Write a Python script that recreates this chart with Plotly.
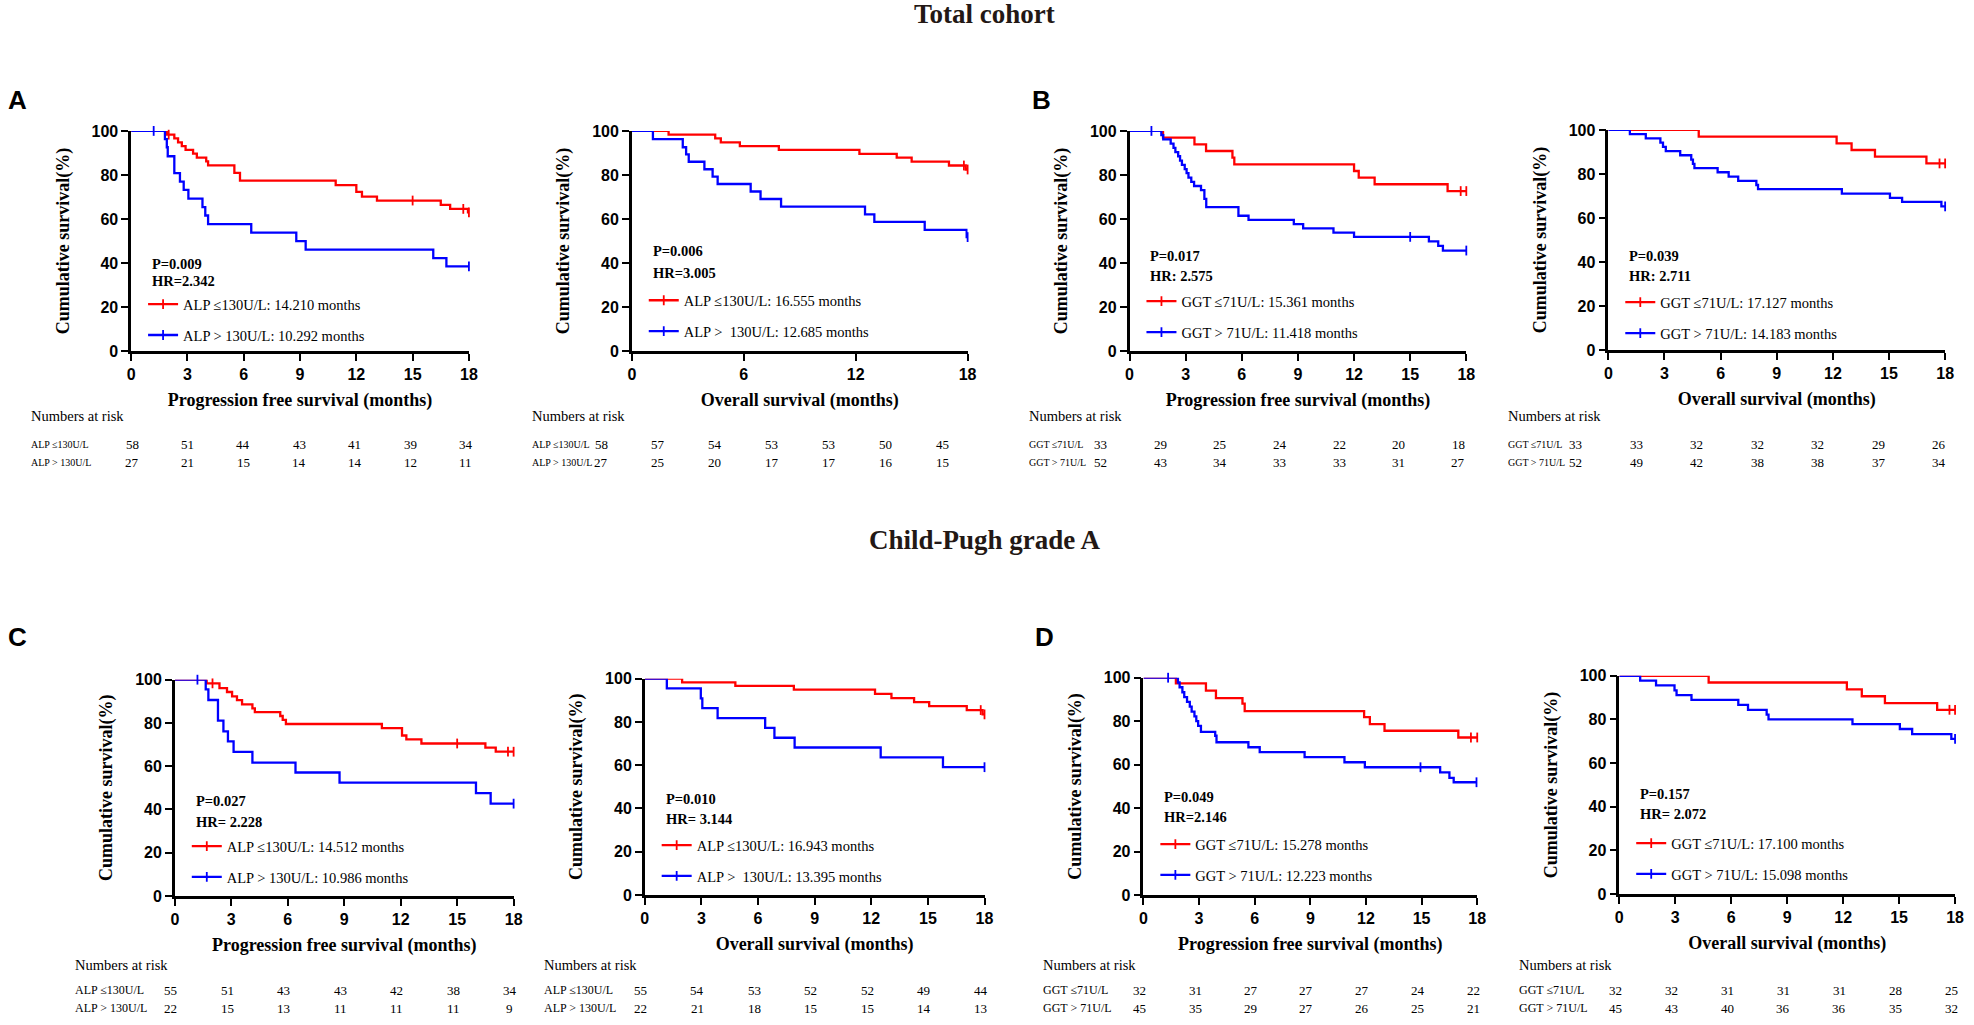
import plotly.graph_objects as go

# ---------------------------------------------------------------------------
# Data
# ---------------------------------------------------------------------------

risk_months = [0, 3, 6, 9, 12, 15, 18]

# A (total cohort) - PFS by ALP
a_pfs_low_t = [1.9, 2.3, 2.5, 2.7, 2.9, 3.3, 3.5, 4.0, 4.1, 5.5, 5.8, 10.9, 12.0, 12.3, 13.1, 16.5, 17.0, 17.95]
a_pfs_low_s = [98.3, 96.6, 94.8, 93.1, 91.4, 89.7, 87.9, 86.2, 84.4, 81.0, 77.4, 75.4, 72.3, 70.2, 68.4, 66.4, 64.6, 63.0]
a_pfs_low_c = [2.0, 15.0, 17.7, 18.0]
a_pfs_high_t = [1.8, 1.9, 1.95, 2.3, 2.6, 2.8, 3.05, 3.8, 3.95, 4.1, 6.4, 8.8, 9.3, 16.1, 16.8]
a_pfs_high_s = [96.3, 92.6, 88.5, 80.8, 77.0, 73.2, 69.3, 65.4, 61.6, 57.7, 53.8, 50.0, 46.1, 42.3, 38.5]
a_pfs_high_c = [1.2, 18.0]

# A (total cohort) - OS by ALP
a_os_low_t = [1.97, 4.47, 4.77, 5.79, 7.88, 12.2, 14.2, 15.0, 17.0, 17.9]
a_os_low_s = [98.3, 96.6, 94.8, 93.1, 91.4, 89.6, 87.9, 86.1, 84.3, 82.5]
a_os_low_c = [17.8, 18.0]
a_os_high_t = [1.13, 2.73, 2.91, 3.05, 3.89, 4.33, 4.6, 6.37, 6.9, 8.0, 12.5, 13.0, 15.7, 17.95]
a_os_high_s = [96.3, 92.6, 89.4, 86.0, 82.6, 79.3, 75.9, 72.5, 69.1, 65.6, 62.1, 58.7, 55.1, 51.8]
a_os_high_c = [18.0]

# B (total cohort) - PFS by GGT
b_pfs_low_t = [1.79, 3.47, 4.09, 5.5, 5.6, 12.0, 12.25, 13.1, 17.0]
b_pfs_low_s = [97.0, 93.9, 90.9, 87.9, 84.8, 81.8, 78.8, 75.8, 72.7]
b_pfs_low_c = [17.7, 18.0]
b_pfs_high_t = [1.7, 1.8, 2.2, 2.35, 2.45, 2.6, 2.7, 2.8, 2.95, 3.05, 3.15, 3.3, 3.45, 3.82, 4.0, 4.1,
                5.82, 6.36, 8.78, 9.28, 10.9, 12.0, 16.0, 16.5, 16.75]
b_pfs_high_s = [98.1, 96.2, 94.2, 92.3, 90.4, 88.5, 86.5, 84.6, 82.7, 80.8, 78.8, 76.9, 75.0, 73.1, 69.2, 65.4,
                61.5, 59.6, 57.7, 55.8, 53.8, 51.9, 49.9, 47.8, 45.7]
b_pfs_high_c = [1.17, 15.0, 18.0]

# B (total cohort) - OS by GGT
b_os_low_t = [4.83, 12.2, 13.0, 14.25, 17.0]
b_os_low_s = [97.0, 93.9, 90.9, 87.9, 84.8]
b_os_low_c = [17.7, 18.0]
b_os_high_t = [1.15, 2.0, 2.78, 2.92, 3.07, 3.84, 4.43, 4.52, 4.6, 5.84, 6.43, 6.94, 7.91, 8.0, 12.48, 15.05, 15.7, 17.8]
b_os_high_s = [98.1, 96.2, 94.2, 92.3, 90.4, 88.5, 86.5, 84.6, 82.7, 80.8, 78.8, 76.9, 75.0, 73.1, 71.1, 69.2, 67.3, 65.3]
b_os_high_c = [18.0]

# C (Child-Pugh A) - PFS by ALP
c_pfs_low_t = [1.69, 2.37, 2.77, 3.04, 3.3, 3.57, 4.12, 4.25, 5.6, 5.73, 5.9, 11.0, 12.07, 12.3, 13.1, 16.5, 17.05]
c_pfs_low_s = [98.3, 96.1, 94.3, 92.3, 90.5, 88.6, 86.7, 85.0, 83.2, 81.4, 79.5, 77.6, 74.2, 72.4, 70.5, 68.6, 66.7]
c_pfs_low_c = [2.0, 15.0, 17.7, 18.0]
c_pfs_high_t = [1.64, 1.78, 2.29, 2.58, 2.82, 3.12, 4.12, 6.41, 8.75, 16.0, 16.78]
c_pfs_high_s = [95.5, 90.6, 81.1, 76.1, 71.5, 66.6, 61.7, 57.1, 52.4, 47.6, 42.7]
c_pfs_high_c = [1.2, 18.0]

# C (Child-Pugh A) - OS by ALP
c_os_low_t = [1.98, 4.8, 7.9, 12.2, 13.07, 14.27, 15.07, 17.06, 17.9]
c_os_low_s = [98.3, 96.7, 94.9, 93.0, 91.0, 89.2, 87.3, 85.5, 83.5]
c_os_low_c = [17.8, 18.0]
c_os_high_t = [1.17, 2.97, 3.05, 3.86, 6.38, 6.87, 7.94, 12.5, 15.8]
c_os_high_s = [95.5, 90.9, 86.4, 81.8, 77.3, 72.7, 68.2, 63.6, 59.1]
c_os_high_c = [18.0]

# D (Child-Pugh A) - PFS by GGT
d_pfs_low_t = [1.75, 3.37, 3.91, 5.34, 5.46, 11.9, 12.21, 13.0, 16.98]
d_pfs_low_s = [97.4, 94.1, 90.6, 88.1, 84.6, 81.9, 78.6, 75.6, 72.5]
d_pfs_low_c = [17.66, 18.0]
d_pfs_high_t = [1.86, 1.95, 2.1, 2.2, 2.35, 2.5, 2.6, 2.75, 2.85, 2.95, 3.1, 3.87, 3.94, 5.66, 6.27,
                8.69, 10.84, 11.94, 16.0, 16.5, 16.73]
d_pfs_high_s = [97.8, 95.6, 93.3, 91.1, 88.9, 86.7, 84.4, 82.2, 80.0, 77.8, 75.1, 73.3, 70.3, 68.0, 65.8,
                63.5, 61.1, 58.8, 56.4, 53.9, 51.9]
d_pfs_high_c = [1.33, 14.94, 17.96]

# D (Child-Pugh A) - OS by GGT
d_os_low_t = [4.79, 12.2, 13.0, 14.24, 17.04]
d_os_low_s = [96.9, 93.8, 90.6, 87.5, 84.4]
d_os_low_c = [17.7, 18.0]
d_os_high_t = [1.12, 1.97, 2.96, 3.07, 3.87, 6.38, 6.9, 7.9, 8.0, 12.5, 15.04, 15.7, 17.8]
d_os_high_s = [97.8, 95.6, 93.3, 91.1, 88.9, 86.7, 84.4, 82.2, 80.0, 77.8, 75.6, 73.3, 71.1]
d_os_high_c = [18.0]

# Group labels (legend / risk table)
alp_low = "ALP \u2264130U/L"
alp_high = "ALP > 130U/L"
alp_high_wide = "ALP >  130U/L"
ggt_low = "GGT \u226471U/L"
ggt_high = "GGT > 71U/L"

# Median survival texts
a_pfs_legend = [alp_low + ": 14.210 months", alp_high + ": 10.292 months"]
a_os_legend = [alp_low + ": 16.555 months", alp_high_wide + ": 12.685 months"]
b_pfs_legend = [ggt_low + ": 15.361 months", ggt_high + ": 11.418 months"]
b_os_legend = [ggt_low + ": 17.127 months", ggt_high + ": 14.183 months"]
c_pfs_legend = [alp_low + ": 14.512 months", alp_high + ": 10.986 months"]
c_os_legend = [alp_low + ": 16.943 months", alp_high_wide + ": 13.395 months"]
d_pfs_legend = [ggt_low + ": 15.278 months", ggt_high + ": 12.223 months"]
d_os_legend = [ggt_low + ": 17.100 months", ggt_high + ": 15.098 months"]

# P value / hazard ratio
stats_text = [
    ("P=0.009", "HR=2.342"), ("P=0.006", "HR=3.005"),
    ("P=0.017", "HR: 2.575"), ("P=0.039", "HR: 2.711"),
    ("P=0.027", "HR= 2.228"), ("P=0.010", "HR= 3.144"),
    ("P=0.049", "HR=2.146"), ("P=0.157", "HR= 2.072"),
]

# Numbers at risk
a_pfs_risk = [[58, 51, 44, 43, 41, 39, 34], [27, 21, 15, 14, 14, 12, 11]]
a_os_risk = [[58, 57, 54, 53, 53, 50, 45], [27, 25, 20, 17, 17, 16, 15]]
b_pfs_risk = [[33, 29, 25, 24, 22, 20, 18], [52, 43, 34, 33, 33, 31, 27]]
b_os_risk = [[33, 33, 32, 32, 32, 29, 26], [52, 49, 42, 38, 38, 37, 34]]
c_pfs_risk = [[55, 51, 43, 43, 42, 38, 34], [22, 15, 13, 11, 11, 11, 9]]
c_os_risk = [[55, 54, 53, 52, 52, 49, 44], [22, 21, 18, 15, 15, 14, 13]]
d_pfs_risk = [[32, 31, 27, 27, 27, 24, 22], [45, 35, 29, 27, 26, 25, 21]]
d_os_risk = [[32, 32, 31, 31, 31, 28, 25], [45, 43, 40, 36, 36, 35, 32]]

pfs_title = "Progression free survival (months)"
os_title = "Overall survival (months)"
y_title = "Cumulative survival(%)"

# ---------------------------------------------------------------------------
# Layout helpers
# ---------------------------------------------------------------------------

W, H = 1974, 1025
RED = "#ff0000"
BLUE = "#0000ff"
SERIF = "Liberation Serif, Times New Roman, serif"
SANS = "Liberation Sans, Arial, sans-serif"


def px(x):
    return x / W


def py(y):
    return 1 - y / H


def surv_at(times, levels, t):
    s = 100.0
    for ti, si in zip(times, levels):
        if ti <= t:
            s = si
    return s


# box = plot area in pixels: (left, right, y of 0%, y of 100%)
# tab = pixel x of first and last column of the numbers-at-risk table
panels = [
    dict(box=(128, 468, 349, 125), tab=(129, 465), dtick=3, xt=pfs_title, row="top",
         curves=[(a_pfs_low_t, a_pfs_low_s, a_pfs_low_c), (a_pfs_high_t, a_pfs_high_s, a_pfs_high_c)],
         legend=a_pfs_legend, risk=a_pfs_risk, labels=[alp_low, alp_high], stat_y=(260, 278), leg_y=317),
    dict(box=(632, 970, 349, 125), tab=(601, 945), dtick=6, xt=os_title, row="top",
         curves=[(a_os_low_t, a_os_low_s, a_os_low_c), (a_os_high_t, a_os_high_s, a_os_high_c)],
         legend=a_os_legend, risk=a_os_risk, labels=[alp_low, alp_high], stat_y=(247, 269), leg_y=313),
    dict(box=(1133, 1472, 349, 125), tab=(1104, 1464), dtick=3, xt=pfs_title, row="top",
         curves=[(b_pfs_low_t, b_pfs_low_s, b_pfs_low_c), (b_pfs_high_t, b_pfs_high_s, b_pfs_high_c)],
         legend=b_pfs_legend, risk=b_pfs_risk, labels=[ggt_low, ggt_high], stat_y=(252, 273), leg_y=314),
    dict(box=(1615, 1954, 348, 124), tab=(1582, 1948), dtick=3, xt=os_title, row="top",
         curves=[(b_os_low_t, b_os_low_s, b_os_low_c), (b_os_high_t, b_os_high_s, b_os_high_c)],
         legend=b_os_legend, risk=b_os_risk, labels=[ggt_low, ggt_high], stat_y=(252, 273), leg_y=315),
    dict(box=(172, 513, 903, 683), tab=(168, 509), dtick=3, xt=pfs_title, row="bottom",
         curves=[(c_pfs_low_t, c_pfs_low_s, c_pfs_low_c), (c_pfs_high_t, c_pfs_high_s, c_pfs_high_c)],
         legend=c_pfs_legend, risk=c_pfs_risk, labels=[alp_low, alp_high], stat_y=(806, 828), leg_y=868),
    dict(box=(645, 987, 902, 682), tab=(641, 983), dtick=3, xt=os_title, row="bottom",
         curves=[(c_os_low_t, c_os_low_s, c_os_low_c), (c_os_high_t, c_os_high_s, c_os_high_c)],
         legend=c_os_legend, risk=c_os_risk, labels=[alp_low, alp_high], stat_y=(804, 825), leg_y=867),
    dict(box=(1147, 1483, 902, 681), tab=(1143, 1479), dtick=3, xt=pfs_title, row="bottom",
         curves=[(d_pfs_low_t, d_pfs_low_s, d_pfs_low_c), (d_pfs_high_t, d_pfs_high_s, d_pfs_high_c)],
         legend=d_pfs_legend, risk=d_pfs_risk, labels=[ggt_low, ggt_high], stat_y=(802, 823), leg_y=866),
    dict(box=(1626, 1964, 901, 679), tab=(1622, 1960), dtick=3, xt=os_title, row="bottom",
         curves=[(d_os_low_t, d_os_low_s, d_os_low_c), (d_os_high_t, d_os_high_s, d_os_high_c)],
         legend=d_os_legend, risk=d_os_risk, labels=[ggt_low, ggt_high], stat_y=(799, 820), leg_y=865),
]

fig = go.Figure()
layout = dict(
    width=W, height=H,
    margin=dict(l=0, r=0, t=0, b=0),
    paper_bgcolor="white", plot_bgcolor="white",
    showlegend=True,
)
annotations = []

for i, p in enumerate(panels):
    n = i + 1
    xa, ya = f"x{n}", f"y{n}"
    leg = "legend" if n == 1 else f"legend{n}"
    left, right, ybot, ytop = p["box"]

    axis_common = dict(
        showline=True, linecolor="black", linewidth=2.5,
        ticks="outside", ticklen=7, tickwidth=2, tickcolor="black",
        tickfont=dict(family=SANS, size=16, color="black", weight="bold"),
        showgrid=False, zeroline=False, fixedrange=True,
    )
    layout[f"xaxis{n}"] = dict(
        axis_common, domain=[px(left), px(right)], anchor=ya, range=[0, 18],
        tickmode="linear", tick0=0, dtick=p["dtick"],
        title=dict(text=p["xt"], standoff=12,
                   font=dict(family=SERIF, size=18, color="black", weight="bold")),
    )
    layout[f"yaxis{n}"] = dict(
        axis_common, domain=[py(ybot), py(ytop)], anchor=xa, range=[0, 100],
        tickmode="linear", tick0=0, dtick=20,
        title=dict(text=y_title, standoff=18,
                   font=dict(family=SERIF, size=18, color="black", weight="bold")),
    )

    for k, (times, levels, cens) in enumerate(p["curves"]):
        col = RED if k == 0 else BLUE
        end = max(cens + times)
        fig.add_trace(go.Scatter(
            x=[0] + times + [end], y=[100] + levels + [levels[-1]],
            mode="lines", line=dict(color=col, width=2.3, shape="hv"),
            xaxis=xa, yaxis=ya, showlegend=False, cliponaxis=False,
            hoverinfo="skip",
        ))
        # censoring ticks; None gaps keep the points unconnected
        cx, cy = [], []
        for t in cens:
            cx += [t, None]
            cy += [surv_at(times, levels, t), None]
        fig.add_trace(go.Scatter(
            x=cx, y=cy, mode="lines+markers",
            line=dict(color=col, width=2.3),
            marker=dict(symbol="line-ns", size=7, color=col, line=dict(color=col, width=1.8)),
            xaxis=xa, yaxis=ya, cliponaxis=False,
            name=p["legend"][k], legend=leg, legendgroup=f"p{n}g{k}",
        ))

    layout[leg] = dict(
        x=px(left + 12), xanchor="left", y=py(p["leg_y"]), yanchor="middle",
        bgcolor="rgba(0,0,0,0)", borderwidth=0,
        font=dict(family=SERIF, size=14.5, color="black"),
        traceorder="grouped", tracegroupgap=9, itemwidth=30,
    )

    # P value and HR
    for txt, yy in zip(stats_text[i], p["stat_y"]):
        annotations.append(dict(
            text=txt, x=px(left + 19), y=py(yy), xref="paper", yref="paper",
            xanchor="left", yanchor="middle", showarrow=False,
            font=dict(family=SERIF, size=14.5, color="black", weight="bold"),
        ))

    # Numbers at risk table
    if p["row"] == "top":
        ty = (415, 444, 462)
        label_size = 10
    else:
        ty = (973, 999, 1017)
        label_size = 12
    annotations.append(dict(
        text="Numbers at risk", x=px(left - 103), y=py(ty[0]), xref="paper", yref="paper",
        xanchor="left", yanchor="middle", showarrow=False,
        font=dict(family=SERIF, size=14.5, color="black"),
    ))
    t0, t1 = p["tab"]
    ncol = len(risk_months)
    for r in range(2):
        annotations.append(dict(
            text=p["labels"][r], x=px(left - 103), y=py(ty[r + 1]), xref="paper", yref="paper",
            xanchor="left", yanchor="middle", showarrow=False,
            font=dict(family=SERIF, size=label_size, color="black"),
        ))
        for j, v in enumerate(p["risk"][r]):
            cxp = t0 + (t1 - t0) * j / (ncol - 1)
            annotations.append(dict(
                text=str(v), x=px(cxp), y=py(ty[r + 1]), xref="paper", yref="paper",
                xanchor="center", yanchor="middle", showarrow=False,
                font=dict(family=SERIF, size=13, color="black"),
            ))

# Section titles and panel letters
annotations += [
    dict(text="Total cohort", x=px(987), y=py(6), xref="paper", yref="paper",
         showarrow=False, xanchor="center", yanchor="middle",
         font=dict(family=SERIF, size=27, color="#231815", weight="bold")),
    dict(text="Child-Pugh grade A", x=px(987), y=py(541), xref="paper", yref="paper",
         showarrow=False, xanchor="center", yanchor="middle",
         font=dict(family=SERIF, size=27, color="#231815", weight="bold")),
]
for letter, lx, ly in [("A", 2, 94), ("B", 1033, 94), ("C", 2, 640), ("D", 1036, 640)]:
    annotations.append(dict(
        text=letter, x=px(lx), y=py(ly), xref="paper", yref="paper",
        showarrow=False, xanchor="left", yanchor="middle",
        font=dict(family=SANS, size=26, color="black", weight="bold"),
    ))

layout["annotations"] = annotations
fig.update_layout(**layout)

# page body margin off so the figure fills the window exactly
fig.write_html(
    "out.html",
    config={"displayModeBar": False},
    post_script="document.body.style.margin='0';document.body.style.overflow='hidden';",
)
